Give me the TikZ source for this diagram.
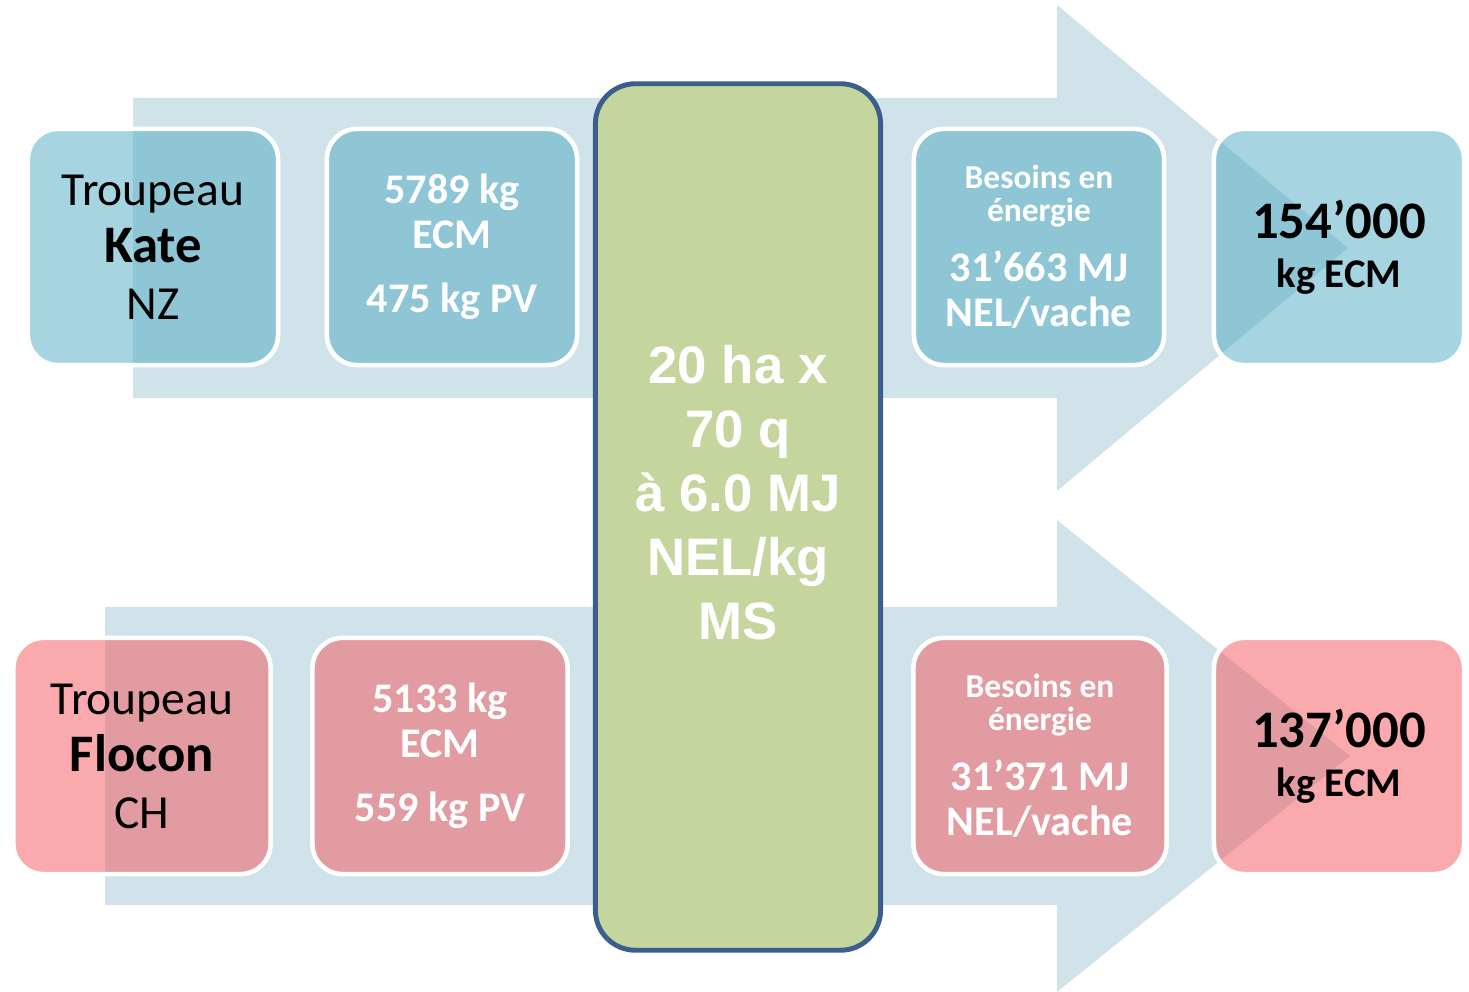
\documentclass[tikz,border=0pt]{standalone}
\usepackage{fontspec}
\setmainfont{Carlito}
\newfontfamily\fieldfont{Liberation Sans}
\definecolor{arrowblue}{RGB}{208,226,234}
\definecolor{kateblue}{RGB}{77,171,195}
\definecolor{floconred}{RGB}{245,85,89}
\definecolor{fieldgreen}{RGB}{196,214,158}
\definecolor{fieldborder}{RGB}{59,94,140}
\usetikzlibrary{positioning}
\tikzset{
  herdbox/.style={rounded corners=0.3cm,draw=white,line width=1.3pt,
    fill opacity=0.5,text opacity=1,minimum width=2.5cm,minimum height=2.36cm,
    inner sep=2pt,align=center},
  katebox/.style={herdbox,fill=kateblue},
  floconbox/.style={herdbox,fill=floconred},
  namefont/.style={font=\fontsize{13.5}{16.2}\selectfont},
  milkfont/.style={text=white,font=\bfseries\fontsize{12}{12.8}\selectfont},
  totalfont/.style={font=\bfseries\fontsize{11.6}{14}\selectfont},
}

\begin{document}
\begin{tikzpicture}[x=0.01cm,y=-0.01cm]
  \useasboundingbox (0,0) rectangle (1469,992);

  % the two big arrows behind the boxes
  \fill[arrowblue] (133,98) -- (1057,98) -- (1057,5) -- (1348,248)
    -- (1057,491) -- (1057,398) -- (133,398) -- cycle;
  \fill[arrowblue] (105,607) -- (1057,607) -- (1057,520) -- (1350,756)
    -- (1057,992) -- (1057,905) -- (105,905) -- cycle;

  % Kate (NZ)
  \node[katebox,namefont] (kate) at (153,247)
    {Troupeau\\{\bfseries\fontsize{15}{16.2}\selectfont Kate}\\NZ};
  \node[katebox,milkfont] (katemilk) at (452,247)
    {5789 kg\\ECM\\[5.5pt]475 kg PV};
  \node[katebox,milkfont] (kateneed) at (1039,247)
    {\fontsize{9.5}{9.4}\selectfont Besoins en\\[-3.4pt]%
     \fontsize{9.5}{9.4}\selectfont énergie\\[4.2pt]31’663 MJ\\NEL/vache};
  \node[katebox,totalfont] (katetotal) at (1339,247)
    {{\fontsize{15}{14}\selectfont 154’000}\\kg ECM};

  % Flocon (CH)
  \node[floconbox,namefont,minimum width=2.57cm] (flocon) at (142,756)
    {Troupeau\\{\bfseries\fontsize{15}{16.2}\selectfont Flocon}\\CH};
  \node[floconbox,milkfont,minimum width=2.55cm] (floconmilk) at (440,756)
    {5133 kg\\ECM\\[5.5pt]559 kg PV};
  \node[floconbox,milkfont,minimum width=2.53cm] (floconneed) at (1040,756)
    {\fontsize{9.5}{9.4}\selectfont Besoins en\\[-3.4pt]%
     \fontsize{9.5}{9.4}\selectfont énergie\\[4.2pt]31’371 MJ\\NEL/vache};
  \node[floconbox,totalfont] (flocontotal) at (1339,756)
    {{\fontsize{15}{14}\selectfont 137’000}\\kg ECM};

  % shared forage area
  \node[draw=fieldborder,line width=1.4pt,fill=fieldgreen,rounded corners=0.4cm,
        minimum width=2.85cm,minimum height=8.66cm] (field) at (738,517) {};
  \node[text=white,font=\fieldfont\bfseries\fontsize{15}{18.2}\selectfont,align=center]
    (fieldtext) at (738,493) {20 ha x\\70 q\\à 6.0 MJ\\NEL/kg\\MS};
\end{tikzpicture}
\end{document}
